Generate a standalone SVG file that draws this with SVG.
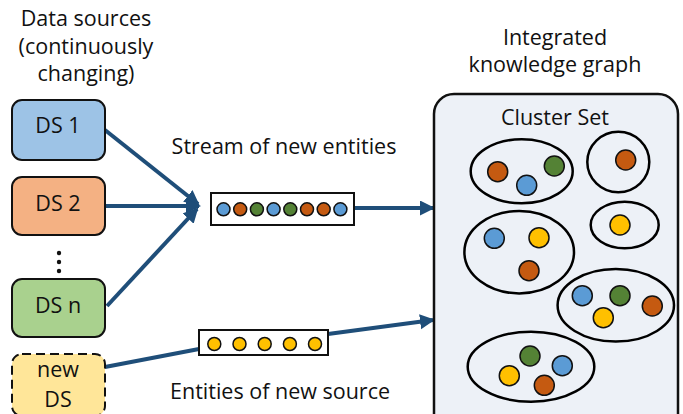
<svg xmlns="http://www.w3.org/2000/svg" width="683" height="414" viewBox="0 0 683 414">
<defs>
<style>
text{font-family:"Open Sans","Liberation Sans",sans-serif;font-size:21.5px;fill:#111;text-anchor:middle}
.ds{stroke:#111;stroke-width:2}
.conn{stroke:#1F4E79;stroke-width:4;fill:none}
.cl{fill:none;stroke:#000;stroke-width:2.5}
.dot{stroke:#111;stroke-width:1.5}
.b{fill:#5B9BD5}.o{fill:#C55A11}.g{fill:#548235}.y{fill:#FFC000}
</style>
<marker id="ah" markerUnits="userSpaceOnUse" markerWidth="18" markerHeight="18" refX="13" refY="7.5" orient="auto">
<path d="M0,0 L15,7.5 L0,15 z" fill="#1F4E79"/>
</marker>
</defs>
<rect width="683" height="414" fill="#fff"/>
<g id="title-sources">
<text x="86" y="26">Data sources</text>
<text x="86" y="54">(continuously</text>
<text x="86" y="81">changing)</text>
</g>
<g id="connectors">
<line class="conn" x1="105" y1="130" x2="198" y2="204" marker-end="url(#ah)"/>
<line class="conn" x1="105" y1="206" x2="199" y2="206" marker-end="url(#ah)"/>
<line class="conn" x1="107" y1="306" x2="197" y2="209" marker-end="url(#ah)"/>
<line class="conn" x1="354" y1="208" x2="433" y2="208" marker-end="url(#ah)"/>
<line class="conn" x1="105" y1="367" x2="199" y2="349"/>
<line class="conn" x1="328" y1="334" x2="433" y2="320" marker-end="url(#ah)"/>
</g>
<g id="ds1"><rect class="ds" x="12" y="100" width="93" height="60" rx="10" fill="#9DC3E6"/><text x="58" y="133">DS 1</text></g>
<g id="ds2"><rect class="ds" x="12" y="177" width="93" height="58" rx="10" fill="#F4B183"/><text x="58" y="211">DS 2</text></g>
<g id="ellipsis"><circle cx="59" cy="253" r="2.2" fill="#111"/><circle cx="59" cy="262" r="2.2" fill="#111"/><circle cx="59" cy="271" r="2.2" fill="#111"/></g>
<g id="dsn"><rect class="ds" x="12" y="279" width="93" height="58" rx="10" fill="#A9D18E"/><text x="58" y="313">DS n</text></g>
<g id="newds"><rect class="ds" x="12" y="354" width="93" height="62" rx="10" fill="#FFE699" stroke-dasharray="9 5"/><text x="58" y="377">new</text><text x="58" y="407">DS</text></g>
<g id="stream-label"><text x="284" y="154">Stream of new entities</text></g>
<g id="stream">
<rect x="211" y="193" width="143" height="32" fill="#fff" stroke="#111" stroke-width="2"/>
<circle class="dot b" cx="223.5" cy="209.3" r="6.5"/>
<circle class="dot o" cx="240.2" cy="209.3" r="6.5"/>
<circle class="dot g" cx="256.9" cy="209.3" r="6.5"/>
<circle class="dot b" cx="273.6" cy="209.3" r="6.5"/>
<circle class="dot g" cx="290.3" cy="209.3" r="6.5"/>
<circle class="dot o" cx="307" cy="209.3" r="6.5"/>
<circle class="dot o" cx="323.7" cy="209.3" r="6.5"/>
<circle class="dot b" cx="340.4" cy="209.3" r="6.5"/>
</g>
<g id="new-stream">
<rect x="199" y="330" width="129" height="25" fill="#fff" stroke="#111" stroke-width="2"/>
<circle class="dot y" cx="214.3" cy="344" r="6.5"/>
<circle class="dot y" cx="239.5" cy="344" r="6.5"/>
<circle class="dot y" cx="264.7" cy="344" r="6.5"/>
<circle class="dot y" cx="289.9" cy="344" r="6.5"/>
<circle class="dot y" cx="315" cy="344" r="6.5"/>
</g>
<g id="new-label"><text x="280" y="399">Entities of new source</text></g>
<g id="kg-title"><text x="555" y="45">Integrated</text><text x="555" y="72">knowledge graph</text></g>
<g id="cluster-set">
<rect x="434" y="94" width="244" height="340" rx="20" fill="#EDF1F7" stroke="#111" stroke-width="2.5"/>
<text x="555" y="125">Cluster Set</text>
<g id="c1"><ellipse class="cl" cx="521.7" cy="171.3" rx="51" ry="32"/>
<circle class="dot o" cx="497.7" cy="171.7" r="10"/><circle class="dot b" cx="526.7" cy="185.3" r="10"/><circle class="dot g" cx="554.3" cy="166" r="10"/></g>
<g id="c2"><ellipse class="cl" cx="618.3" cy="162" rx="31" ry="30.3"/>
<circle class="dot o" cx="625.7" cy="160" r="10"/></g>
<g id="c3"><ellipse class="cl" cx="624.7" cy="225" rx="34" ry="23.3"/>
<circle class="dot y" cx="620" cy="225" r="10"/></g>
<g id="c4"><ellipse class="cl" cx="519.2" cy="252.2" rx="54.8" ry="41.2"/>
<circle class="dot b" cx="494.3" cy="238.3" r="10"/><circle class="dot y" cx="539" cy="237.7" r="10"/><circle class="dot o" cx="529" cy="270.7" r="10"/></g>
<g id="c5"><ellipse class="cl" cx="615.8" cy="305.3" rx="58.2" ry="36.3"/>
<circle class="dot b" cx="582.3" cy="295.7" r="10"/><circle class="dot g" cx="620" cy="295.7" r="10"/><circle class="dot o" cx="652.3" cy="306" r="10"/><circle class="dot y" cx="603.3" cy="317.7" r="10"/></g>
<g id="c6"><ellipse class="cl" cx="531" cy="366.7" rx="63.3" ry="35"/>
<circle class="dot g" cx="530" cy="356" r="10"/><circle class="dot b" cx="562.3" cy="365.7" r="10"/><circle class="dot y" cx="509.3" cy="375.7" r="10"/><circle class="dot o" cx="544.3" cy="385.3" r="10"/></g>
</g>
</svg>
